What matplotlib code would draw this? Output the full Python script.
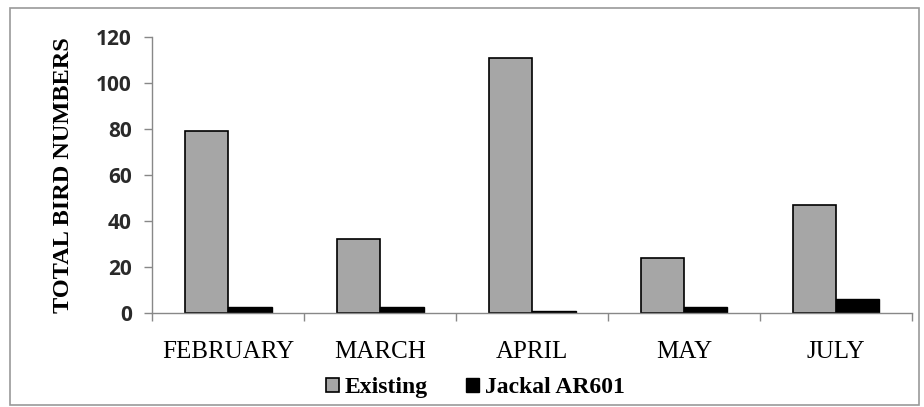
import numpy as np
import matplotlib.pyplot as plt
from matplotlib.patches import Rectangle

months = ['FEBRUARY', 'MARCH', 'APRIL', 'MAY', 'JULY']
existing = [79, 32, 111, 24, 47]
jackal = [2.7, 2.7, 1, 2.7, 6.2]

fig = plt.figure(figsize=(9.24, 4.07), dpi=100)
ax = fig.add_axes([0.165, 0.231, 0.822, 0.678])

x = np.arange(len(months))
w = 0.285
ax.bar(x - w / 2, existing, w, color='#a6a6a6', edgecolor='black', linewidth=1.2, label='Existing')
ax.bar(x + w / 2, jackal, w, color='black', edgecolor='black', linewidth=1, label='Jackal AR601')

ax.set_xlim(-0.5, len(months) - 0.5)
ax.set_ylim(0, 120)
ax.set_yticks(range(0, 121, 20))
ax.set_xticks(x)
ax.set_xticklabels(months, family='Liberation Serif', fontsize=18)
ax.set_xticks(np.arange(-0.5, len(months)), minor=True)
ax.tick_params(axis='x', which='major', length=0, pad=20)
ax.tick_params(axis='x', which='minor', length=6, color='#888888', width=1)
ax.tick_params(axis='y', length=6, color='#888888', width=1, labelsize=15, pad=9)
for lab in ax.get_yticklabels():
    lab.set_family('Open Sans')
    lab.set_fontweight('bold')
    lab.set_color('#2a2a2a')

for s in ['top', 'right']:
    ax.spines[s].set_visible(False)
for s in ['left', 'bottom']:
    ax.spines[s].set_color('#888888')
    ax.spines[s].set_linewidth(1)

ax.set_ylabel('TOTAL BIRD NUMBERS', family='Liberation Serif', fontweight='bold', fontsize=17.5, labelpad=16)

ax.legend(loc='center', bbox_to_anchor=(0.425, -0.27), ncol=2, frameon=False,
          prop={'family': 'Liberation Serif', 'weight': 'bold', 'size': 17},
          handlelength=0.55, handleheight=0.55, handletextpad=0.25, columnspacing=1.6)

fig.patches.append(Rectangle((0.011, 0.005), 0.984, 0.975, transform=fig.transFigure,
                             fill=False, edgecolor='#999999', linewidth=1.2))

fig.savefig('out.png', dpi=100)
